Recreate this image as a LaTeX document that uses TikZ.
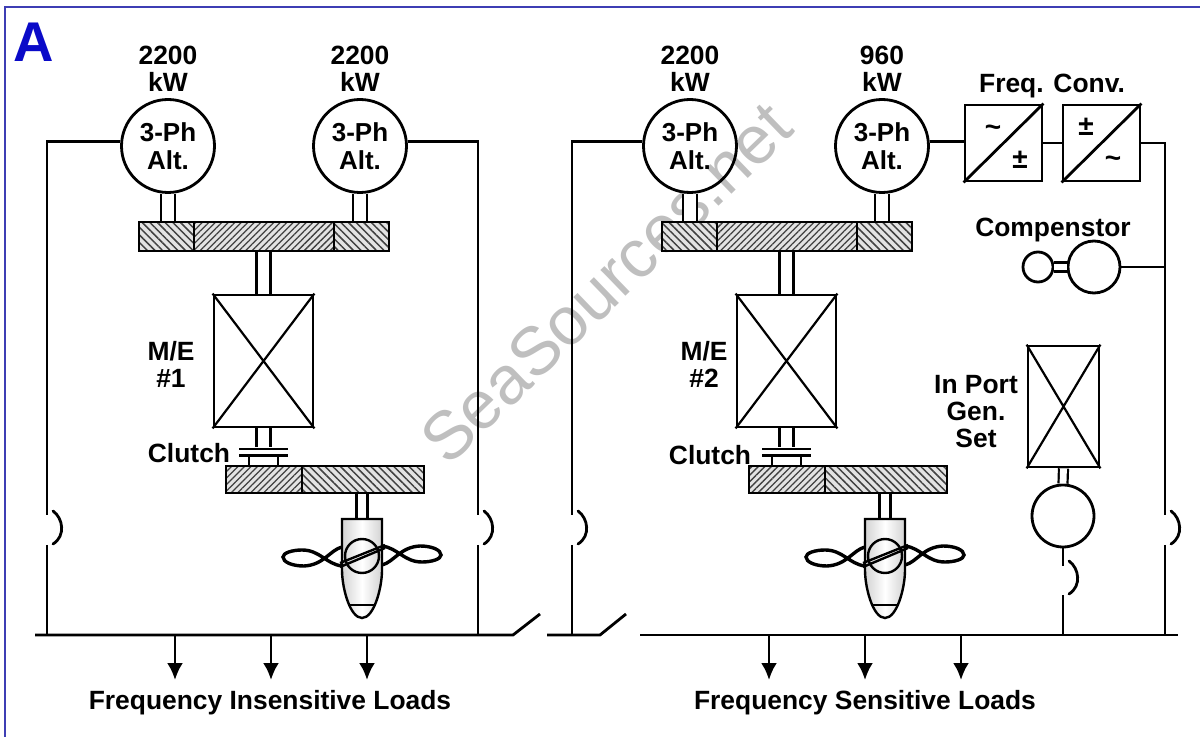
\documentclass[tikz,border=0pt]{standalone}
\usepackage{fontspec}
\setmainfont{Liberation Sans}
\usetikzlibrary{arrows.meta,patterns.meta}
\definecolor{framecol}{RGB}{62,62,180}
\definecolor{lettercol}{RGB}{10,10,200}
\tikzset{
	wire/.style={line width=1.4pt, line cap=butt},
	shaft/.style={line width=1.3pt, double=white, double distance=5.6pt},
	thinshaft/.style={line width=1.2pt, double=white, double distance=4.2pt},
	clutchshaft/.style={line width=1.3pt, double=white, double distance=13.2pt},
	linkshaft/.style={line width=1.1pt, double=white, double distance=3.4pt},
	alt/.style={circle, draw, line width=1.4pt, minimum size=46.5pt, inner sep=0pt, align=center, font=\bfseries\fontsize{13}{14}\selectfont},
	machine/.style={circle, draw, line width=1.4pt, inner sep=0pt},
	enginebox/.style={rectangle, draw, line width=1.4pt, inner sep=0pt, minimum width=49.5pt, minimum height=66pt},
	convbox/.style={rectangle, draw, line width=1.4pt, inner sep=0pt, minimum width=38.5pt, minimum height=38pt},
	gearnw/.style={rectangle, draw, line width=1.4pt, inner sep=0pt, preaction={fill=gray!22}, pattern={Lines[angle=-45,distance=2.7pt,line width=.75pt]}, pattern color=black!75},
	gearne/.style={rectangle, draw, line width=1.4pt, inner sep=0pt, preaction={fill=gray!22}, pattern={Lines[angle=45,distance=2.3pt,line width=.65pt]}, pattern color=black!75},
	plate/.style={rectangle, fill=black, inner sep=0pt, minimum width=24.5pt, minimum height=1.3pt},
	label/.style={align=center, font=\bfseries\fontsize{13.2}{13.5}\selectfont},
	sign/.style={inner sep=0pt, font=\bfseries\fontsize{14}{14}\selectfont},
	breaker/.pic={\draw[wire, line cap=round] (6,-19) .. controls (16,-12) and (19,6) .. (6,14);},
	propeller/.pic={
		\draw[line width=1.2pt, left color=gray!35, right color=gray!35, middle color=white] (-20,-37) -- (20,-37) -- (20,14) .. controls (20,32) and (12,62) .. (0,62) .. controls (-12,62) and (-20,32) .. (-20,14) -- cycle;
		\draw[line width=1.2pt] (-12,49) -- (12,49);
		\draw[line width=1.2pt] (0,0) circle (17);
		\foreach \turn in {0,180} {
			\draw[line width=1.7pt, rotate=\turn] (-20,-9) .. controls (-32,-6) and (-38,9) .. (-58,10) .. controls (-70,10) and (-79,6) .. (-79,1) .. controls (-79,-3) and (-70,-6) .. (-60,-6) .. controls (-42,-6) and (-36,8) .. (-20,10);
		}
		\draw[line width=1.2pt] (-22,11) -- (23,-8);
		\draw[line width=1.2pt] (-22,7) -- (23,-11);
	},
}

\begin{document}
\begin{tikzpicture}[x=0.5pt, y=-0.5pt, >=Latex]
	\useasboundingbox (0,0) rectangle (1200,737);
	\node[rotate=44, black!25, font=\fontsize{34}{34}\selectfont] (mark) at (606,283) {SeaSources.net};
	\coordinate (frametl) at (5,7);
	\coordinate (frametr) at (1200,7);
	\coordinate (framebl) at (5,737);
	\draw[framecol, line width=1.3pt] (framebl) -- (frametl) -- (frametr);
	\node[lettercol, font=\bfseries\fontsize{28}{28}\selectfont] (panel) at (34,42) {A};

	\node[alt] (alt1) at (168,146) {3-Ph\\Alt.};
	\node[alt] (alt2) at (360,146) {3-Ph\\Alt.};
	\node[alt] (alt3) at (690,146) {3-Ph\\Alt.};
	\node[alt] (alt4) at (882,146) {3-Ph\\Alt.};
	\node[label] (rate1) at (168,69) {2200\\kW};
	\node[label] (rate2) at (360,69) {2200\\kW};
	\node[label] (rate3) at (690,69) {2200\\kW};
	\node[label] (rate4) at (882,69) {960\\kW};

	\node[gearnw, minimum width=27.5pt, minimum height=14.5pt] (gear1a) at (166.5,236.5) {};
	\node[gearne, minimum width=70pt, minimum height=14.5pt] (gear1b) at (264,236.5) {};
	\node[gearnw, minimum width=27.5pt, minimum height=14.5pt] (gear1c) at (361.5,236.5) {};
	\node[gearnw, minimum width=27.5pt, minimum height=14.5pt] (gear3a) at (689.5,236.5) {};
	\node[gearne, minimum width=70pt, minimum height=14.5pt] (gear3b) at (787,236.5) {};
	\node[gearnw, minimum width=27.5pt, minimum height=14.5pt] (gear3c) at (884.5,236.5) {};
	\node[gearne, minimum width=38pt, minimum height=13.5pt] (gear2a) at (264,479.5) {};
	\node[gearnw, minimum width=61pt, minimum height=13.5pt] (gear2b) at (363,479.5) {};
	\node[gearne, minimum width=38pt, minimum height=13.5pt] (gear4a) at (787,479.5) {};
	\node[gearnw, minimum width=61pt, minimum height=13.5pt] (gear4b) at (886,479.5) {};

	\node[enginebox] (me1) at (263.5,361) {};
	\node[enginebox] (me2) at (786.5,361) {};
	\draw[line width=1.1pt] (me1.north west) -- (me1.south east) (me1.north east) -- (me1.south west);
	\draw[line width=1.1pt] (me2.north west) -- (me2.south east) (me2.north east) -- (me2.south west);
	\node[label] (melabel1) at (171,364) {M/E\\\#1};
	\node[label] (melabel2) at (704,364) {M/E\\\#2};
	\node[label] (clutchlabel1) at (189,453) {Clutch};
	\node[label] (clutchlabel2) at (710,455) {Clutch};

	\node[plate] (clutch1a) at (263.5,449) {};
	\node[plate] (clutch1b) at (263.5,455.5) {};
	\node[plate] (clutch2a) at (786.5,449) {};
	\node[plate] (clutch2b) at (786.5,455.5) {};

	\draw[shaft] (alt1.south) -- (alt1.south |- gear1a.north);
	\draw[shaft] (alt2.south) -- (alt2.south |- gear1c.north);
	\draw[shaft] (alt3.south) -- (alt3.south |- gear3a.north);
	\draw[shaft] (alt4.south) -- (alt4.south |- gear3c.north);
	\draw[shaft] (me1.north) -- (me1.north |- gear1b.south);
	\draw[shaft] (me2.north) -- (me2.north |- gear3b.south);
	\draw[shaft] (me1.south) -- (clutch1a.north);
	\draw[shaft] (me2.south) -- (clutch2a.north);
	\draw[clutchshaft] (clutch1b.south) -- (clutch1b.south |- gear2a.north);
	\draw[clutchshaft] (clutch2b.south) -- (clutch2b.south |- gear4a.north);

	\coordinate (prop1) at (362,520);
	\coordinate (prop2) at (885,520);
	\draw[thinshaft] (prop1 |- gear2b.south) -- (prop1);
	\draw[thinshaft] (prop2 |- gear4b.south) -- (prop2);
	\pic at (362,556) {propeller};
	\pic at (885,556) {propeller};

	\node[convbox] (conv1) at (1003.5,143) {};
	\node[convbox] (conv2) at (1101.5,143) {};
	\draw[wire] (conv1.south west) -- (conv1.north east);
	\draw[wire] (conv2.south west) -- (conv2.north east);
	\node[sign] (sign1) at (993,131) {\textasciitilde};
	\node[sign] (sign2) at (1020,160) {±};
	\node[sign] (sign3) at (1086,127) {±};
	\node[sign] (sign4) at (1113,162) {\textasciitilde};
	\node[label] (convlabel) at (1052,86) {Freq. Conv.};
	\draw[wire] (alt4.5) -- (alt4.5 -| conv1.west);
	\draw[wire] (conv1.east) -- (conv2.west);

	\node[label] (complabel) at (1053,230) {Compenstor};
	\node[machine, minimum size=26pt] (comp) at (1094,267) {};
	\node[machine, minimum size=15pt] (exciter) at (1038,267) {};
	\draw[linkshaft] (exciter) -- (comp);

	\node[enginebox, minimum width=35.5pt, minimum height=60.5pt] (genset) at (1063.5,406.5) {};
	\draw[line width=1.1pt] (genset.north west) -- (genset.south east) (genset.north east) -- (genset.south west);
	\node[label] (genlabel) at (976,412) {In Port\\Gen.\\Set};
	\node[machine, minimum size=31pt] (gen) at (1063,516) {};
	\draw[linkshaft] (genset.south) -- (gen.north);

	\coordinate (bus1a) at (35,635);
	\coordinate (bus1b) at (513,635);
	\coordinate (blade1) at (540,614);
	\coordinate (bus2a) at (547,635);
	\coordinate (bus2b) at (600,635);
	\coordinate (blade2) at (626,614);
	\coordinate (bus3a) at (640,635);
	\coordinate (bus3b) at (1178,635);
	\draw[wire] (bus1a) -- (bus1b) -- (blade1);
	\draw[wire] (bus2a) -- (bus2b) -- (blade2);
	\draw[wire] (bus3a) -- (bus3b);

	\coordinate (brk1a) at (47,515);
	\coordinate (brk1b) at (47,545);
	\coordinate (brk2a) at (478,515);
	\coordinate (brk2b) at (478,545);
	\coordinate (brk3a) at (572,515);
	\coordinate (brk3b) at (572,545);
	\coordinate (brk4a) at (1165,515);
	\coordinate (brk4b) at (1165,545);
	\coordinate (brk5a) at (1063,566);
	\coordinate (brk5b) at (1063,595);
	\draw[wire] (alt1.175) -| (brk1a);
	\draw[wire] (alt2.5) -| (brk2a);
	\draw[wire] (alt3.175) -| (brk3a);
	\draw[wire] (conv2.east) -| (brk4a);
	\draw[wire] (comp.east) -- (comp.east -| brk4a);
	\draw[wire] (gen.south) -- (brk5a);
	\draw[wire] (brk1b) -- (brk1b |- bus1a);
	\draw[wire] (brk2b) -- (brk2b |- bus1a);
	\draw[wire] (brk3b) -- (brk3b |- bus2a);
	\draw[wire] (brk4b) -- (brk4b |- bus3a);
	\draw[wire] (brk5b) -- (brk5b |- bus3a);
	\pic at (47,530) {breaker};
	\pic at (478,530) {breaker};
	\pic at (572,530) {breaker};
	\pic at (1165,530) {breaker};
	\pic at (1063,580) {breaker};

	\coordinate (load1) at (175,680);
	\coordinate (load2) at (271,680);
	\coordinate (load3) at (367,680);
	\coordinate (load4) at (769,680);
	\coordinate (load5) at (865,680);
	\coordinate (load6) at (961,680);
	\draw[wire, -{Latex[length=8.5pt,width=8pt]}] (load1 |- bus1a) -- (load1);
	\draw[wire, -{Latex[length=8.5pt,width=8pt]}] (load2 |- bus1a) -- (load2);
	\draw[wire, -{Latex[length=8.5pt,width=8pt]}] (load3 |- bus1a) -- (load3);
	\draw[wire, -{Latex[length=8.5pt,width=8pt]}] (load4 |- bus3a) -- (load4);
	\draw[wire, -{Latex[length=8.5pt,width=8pt]}] (load5 |- bus3a) -- (load5);
	\draw[wire, -{Latex[length=8.5pt,width=8pt]}] (load6 |- bus3a) -- (load6);
	\node[label] (loadlabel1) at (270,703) {Frequency Insensitive Loads};
	\node[label] (loadlabel2) at (865,703) {Frequency Sensitive Loads};
\end{tikzpicture}
\end{document}
